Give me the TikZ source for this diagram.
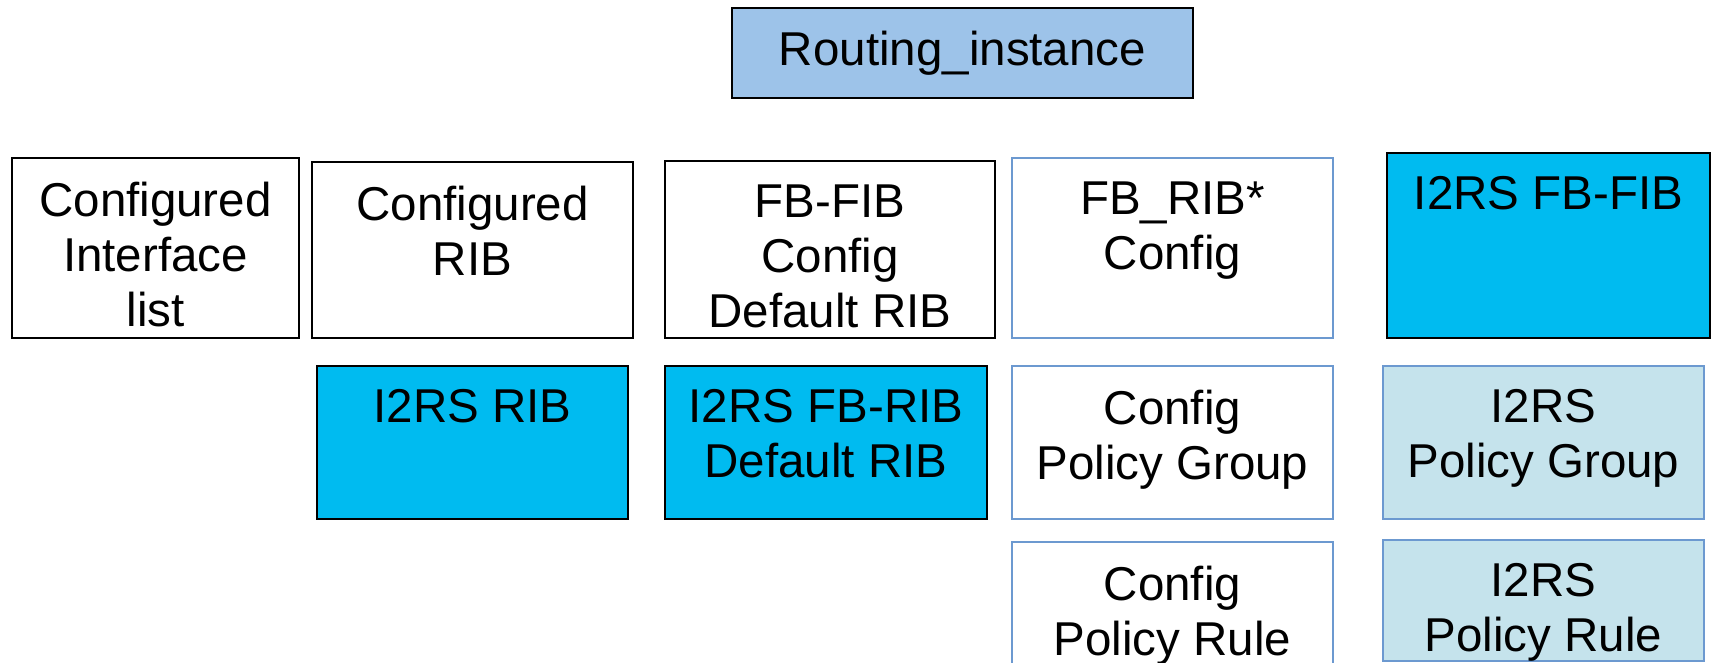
\documentclass[tikz,border=0pt]{standalone}
\usepackage{fontspec}
\setmainfont{Liberation Sans}
\usetikzlibrary{positioning}
\definecolor{colInst}{RGB}{157, 195, 233}
\definecolor{colCyan}{RGB}{0, 187, 240}
\definecolor{colPale}{RGB}{197, 227, 236}
\definecolor{colEdge}{RGB}{108, 153, 208}

\begin{document}
\begin{tikzpicture}[x=1pt, y=-1pt,
    every node/.style={font=\fontsize{47.5}{55}\selectfont},
    box/.style={rectangle, draw=black, line width=2pt, inner sep=0pt},
    cfgbox/.style={rectangle, draw=colEdge, line width=1.8pt, fill=white, inner sep=0pt},
    txt/.style={align=center, inner sep=0pt}
]
    \useasboundingbox (0, 0) rectangle (1713, 663);

    % --- Routing instance ---
    \node[box, fill=colInst, minimum width=461pt, minimum height=90pt] (inst) at (962.5, 53) {Routing\_instance};

    % --- Top row ---
    \node[box, minimum width=287pt, minimum height=180pt] (cil) at (155.5, 248) {};
    \node[txt, below=24.5pt of cil.north] (cilT) {Configured\\Interface\\list};

    \node[box, minimum width=321pt, minimum height=176pt] (crib) at (472.5, 250) {};
    \node[txt, below=24.5pt of crib.north] (cribT) {Configured\\RIB};

    \node[box, minimum width=330pt, minimum height=177pt] (fbfib) at (830, 249.5) {};
    \node[txt, below=24.5pt of fbfib.north] (fbfibT) {FB-FIB\\Config\\Default RIB};

    \node[cfgbox, minimum width=321pt, minimum height=180pt] (fbrib) at (1172.5, 248) {};
    \node[txt, below=24.5pt of fbrib.north] (fbribT) {FB\_RIB*\\Config};

    \node[box, fill=colCyan, minimum width=323pt, minimum height=185pt] (ifbfib) at (1548.5, 245.5) {};
    \node[txt, below=24.5pt of ifbfib.north] (ifbfibT) {I2RS FB-FIB};

    % --- Second row ---
    \node[box, fill=colCyan, minimum width=311pt, minimum height=153pt] (irib) at (472.5, 442.5) {};
    \node[txt, below=24.5pt of irib.north] (iribT) {I2RS RIB};

    \node[box, fill=colCyan, minimum width=322pt, minimum height=153pt] (ifbrib) at (826, 442.5) {};
    \node[txt, below=24.5pt of ifbrib.north] (ifbribT) {I2RS FB-RIB\\Default RIB};

    \node[cfgbox, minimum width=321pt, minimum height=153pt] (cpg) at (1172.5, 442.5) {};
    \node[txt, below=24.5pt of cpg.north] (cpgT) {Config\\Policy Group};

    \node[cfgbox, fill=colPale, minimum width=321pt, minimum height=153pt] (ipg) at (1543.5, 442.5) {};
    \node[txt, below=24.5pt of ipg.north] (ipgT) {I2RS\\Policy Group};

    % --- Third row (cut at the bottom) ---
    \node[cfgbox, minimum width=321pt, minimum height=150pt] (cpr) at (1172.5, 617) {};
    \node[txt, below=24.5pt of cpr.north] (cprT) {Config\\Policy Rule};

    \node[cfgbox, fill=colPale, minimum width=321pt, minimum height=121pt] (ipr) at (1543.5, 600.5) {};
    \node[txt, below=24.5pt of ipr.north] (iprT) {I2RS\\Policy Rule};

\end{tikzpicture}
\end{document}
